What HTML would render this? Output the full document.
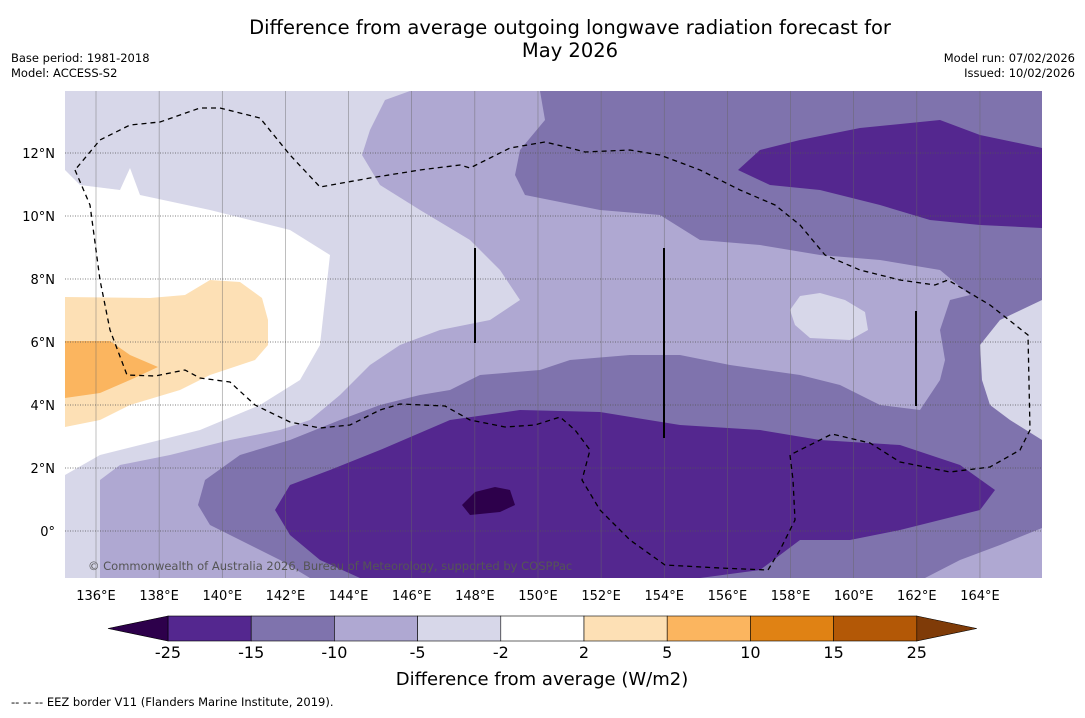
<!DOCTYPE html>
<html><head><meta charset="utf-8"><style>
body{margin:0;background:#fff;font-family:"Liberation Sans",sans-serif;}
svg text{font-family:"DejaVu Sans","Liberation Sans",sans-serif;}
</style></head><body>
<svg id="c" width="1085" height="713" xmlns="http://www.w3.org/2000/svg">
<rect width="1085" height="713" fill="#fff"/>
<text x="570" y="34" font-size="19.5" text-anchor="middle">Difference from average outgoing longwave radiation forecast for</text>
<text x="570" y="57" font-size="19.5" text-anchor="middle">May 2026</text>
<text x="11" y="62" font-size="11.5">Base period: 1981-2018</text>
<text x="11" y="77" font-size="11.5">Model: ACCESS-S2</text>
<text x="1075" y="62" font-size="11.5" text-anchor="end">Model run: 07/02/2026</text>
<text x="1075" y="77" font-size="11.5" text-anchor="end">Issued: 10/02/2026</text>
<defs><clipPath id="pc"><rect x="65" y="91" width="977" height="487"/></clipPath></defs>
<g clip-path="url(#pc)">
<rect x="65" y="91" width="977" height="487" fill="#d7d7e9"/>
<polygon fill="#fff" points="65,170 80,185 120,190 130,168 140,195 210,210 290,230 330,255 325,300 320,345 300,380 260,405 200,430 140,445 100,455 65,475"/>
<polygon fill="#afa8d2" points="410,91 1042,91 1042,578 100,578 100,480 120,465 170,455 230,440 280,430 310,420 340,395 370,365 400,345 440,330 490,320 520,300 500,270 470,240 420,210 380,185 362,155 370,130 385,100"/>
<polygon fill="#7f73ad" points="540,91 1042,91 1042,578 310,578 280,560 240,540 210,525 198,505 205,480 240,455 290,440 340,420 380,405 420,395 450,390 480,375 540,370 570,360 630,355 680,355 730,365 800,375 840,385 860,395 880,405 920,410 930,395 940,380 945,360 940,330 950,300 970,295 940,270 880,260 820,255 760,245 700,240 660,215 600,210 525,195 515,175 520,150 545,120"/>
<polygon fill="#d7d7e9" points="1042,300 1042,440 1010,420 990,405 982,380 980,345 1000,320"/>
<polygon fill="#afa8d2" points="925,578 960,560 1000,545 1042,528 1042,578"/>
<polygon fill="#d7d7e9" points="790,310 800,296 820,293 845,300 865,312 868,330 850,340 810,338 795,325"/>
<polygon fill="#54278f" points="738,170 760,150 800,140 860,128 940,120 980,135 1042,148 1042,228 980,225 930,220 880,205 820,190 770,185"/>
<polygon fill="#54278f" points="275,510 290,485 330,470 380,450 450,420 520,410 600,412 680,425 760,430 820,440 900,445 960,465 995,490 980,510 940,520 900,530 850,540 800,540 780,555 760,570 700,578 360,578 320,560 290,535"/>
<polygon fill="#2d004b" points="462,505 475,492 495,487 510,490 515,505 500,512 470,515"/>
<polygon fill="#fde0b5" points="65,297 150,298 185,295 210,280 240,282 262,298 268,320 268,345 255,360 210,375 180,390 130,405 100,420 65,427"/>
<polygon fill="#fbb55f" points="65,341 110,341 130,355 158,367 130,380 100,393 65,398"/>
<g id="grid"></g>
<polyline fill="none" stroke="#000" stroke-width="1.3" stroke-dasharray="5,4" points="75,170 90,205 100,280 110,330 127,375 155,376 185,370 200,378 230,382 255,405 290,422 320,428 350,425 380,410 400,404 445,406 470,420 505,427 535,425 560,417 575,430 590,450 582,480 600,510 630,540 665,565 720,568 768,570 780,550 795,520 793,480 790,455 832,434 870,443 900,462 950,472 990,467 1020,450 1030,430 1028,335 990,305 948,280 935,285 900,280 860,270 825,255 800,225 775,205 740,190 700,170 660,155 630,150 585,152 570,148 545,142 510,148 490,158 470,168 460,165 420,170 370,178 320,187 290,155 260,118 220,108 200,108 160,122 130,125 100,140 75,170"/>
<line x1="475" y1="248" x2="475" y2="343" stroke="#000" stroke-width="2"/>
<line x1="664" y1="248" x2="664" y2="438" stroke="#000" stroke-width="2"/>
<line x1="916" y1="311" x2="916" y2="406" stroke="#000" stroke-width="2"/>
<text x="88" y="570" font-size="11.5" fill="#555">© Commonwealth of Australia 2026, Bureau of Meteorology, supported by COSPPac</text>
</g>
<g id="axes"></g>
<g id="cbar"></g>
<text x="542" y="685" font-size="18" text-anchor="middle">Difference from average (W/m2)</text>
<text x="11" y="706" font-size="11.5">--  --  -- EEZ border V11 (Flanders Marine Institute, 2019).</text>
</svg>
<script>
const lonTicks=[136,138,140,142,144,146,148,150,152,154,156,158,160,162,164];
const latTicks=[0,2,4,6,8,10,12];
const levels=["-25","-15","-10","-5","-2","2","5","10","15","25"];
const binColors=["#54278f","#7f73ad","#afa8d2","#d7d7e9","#ffffff","#fde0b5","#fbb55f","#e08214","#b35806"];
const extColors=["#2d004b","#7f3b08"];
const NS="http://www.w3.org/2000/svg";
const xLon=l=>96+(l-136)*31.57, yLat=l=>531-l*31.5;
function mk(t,a,p){const e=document.createElementNS(NS,t);for(const k in a)e.setAttribute(k,a[k]);p.appendChild(e);return e;}
const grid=document.getElementById('grid'),axes=document.getElementById('axes'),cb=document.getElementById('cbar');
lonTicks.forEach(l=>{const x=xLon(l);
 const g=mk('line',{x1:x,x2:x,y1:91,y2:578,stroke:'#666','stroke-width':0.6,'stroke-opacity':0.7},grid);
 
 
 const t=mk('text',{x:x,y:600,'font-size':13,'text-anchor':'middle'},axes);t.textContent=l+'°E';
 
 });
latTicks.forEach(l=>{const y=yLat(l);
 const g=mk('line',{x1:65,x2:1042,y1:y,y2:y,stroke:'#555','stroke-width':0.7,'stroke-dasharray':'1,1.5'},grid);
 
 
 const t=mk('text',{x:55,y:y+5,'font-size':13,'text-anchor':'end'},axes);t.textContent=l===0?'0°':l+'°N';
 
 });
const cx0=168,cw=83.2,cy=616,ch=25;
binColors.forEach((c,i)=>{const r=mk('rect',{x:cx0+i*cw,y:cy,width:cw,height:ch,fill:c,stroke:'#000','stroke-width':0.6},cb);
 
 });
const xe=cx0+binColors.length*cw;
const p1=mk('polygon',{points:`${cx0},${cy} 108,${cy+ch/2} ${cx0},${cy+ch}`,fill:extColors[0],stroke:'#000','stroke-width':0.6},cb);


const p2=mk('polygon',{points:`${xe},${cy} ${xe+60},${cy+ch/2} ${xe},${cy+ch}`,fill:extColors[1],stroke:'#000','stroke-width':0.6},cb);


levels.forEach((v,i)=>{const t=mk('text',{x:cx0+i*cw,y:658,'font-size':16,'text-anchor':'middle'},cb);t.textContent=v;
 
 });
</script>
</body></html>
